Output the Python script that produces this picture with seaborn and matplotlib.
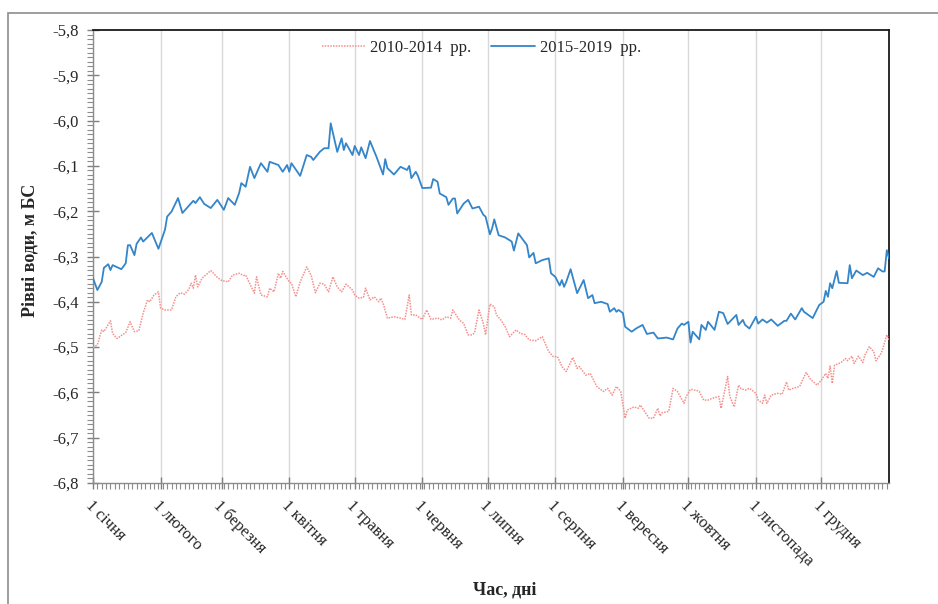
import numpy as np
import pandas as pd
import matplotlib
matplotlib.use("Agg")
import matplotlib.pyplot as plt
import seaborn as sns
from matplotlib.ticker import FixedLocator, MultipleLocator, FuncFormatter
from matplotlib.patches import Rectangle

# ---- data ----
month_days = [0, 31, 59, 90, 120, 151, 181, 212, 243, 273, 304, 334]
month_labels = ["1 січня", "1 лютого", "1 березня", "1 квітня", "1 травня", "1 червня",
                "1 липня", "1 серпня", "1 вересня", "1 жовтня", "1 листопада", "1 грудня"]
series_names = ["2010-2014  рр.", "2015-2019  рр."]

days_2010 = [0, 2, 4, 5, 8, 9, 11, 15, 17, 19, 21, 23, 25, 26, 28, 30, 31, 33, 36, 38,
             40, 42, 44, 45, 46, 47, 48, 50, 54, 57, 59, 62, 64, 67, 69, 70, 74, 75, 77, 80,
             81, 83, 85, 86, 87, 90, 91, 93, 95, 96, 98, 100, 102, 104, 106, 108, 110, 112, 114, 116,
             119, 120, 122, 124, 125, 127, 129, 131, 132, 133, 135, 138, 141, 143, 145, 146, 148, 151, 153, 155,
             158, 160, 162, 164, 165, 168, 170, 172, 174, 175, 177, 179, 180, 182, 184, 185, 187, 189, 191, 194,
             196, 198, 200, 203, 206, 207, 209, 211, 213, 215, 217, 220, 222, 223, 226, 228, 231, 234, 236, 238,
             240, 242, 244, 245, 248, 250, 251, 255, 257, 259, 260, 261, 264, 266, 268, 271, 272, 274, 277, 278,
             280, 282, 284, 287, 288, 291, 292, 294, 296, 297, 299, 301, 304, 305, 307, 308, 309, 311, 314, 316,
             318, 319, 321, 324, 327, 329, 332, 334, 336, 337, 338, 339, 340, 343, 345, 346, 348, 349, 351, 353,
             354, 356, 358, 359, 361, 362, 364, 365]
level_2010 = [-6.501, -6.495, -6.462, -6.466, -6.442, -6.470, -6.481, -6.468, -6.444, -6.466, -6.464, -6.425, -6.396, -6.400, -6.385, -6.378, -6.414, -6.418, -6.418, -6.389,
              -6.380, -6.383, -6.372, -6.359, -6.370, -6.341, -6.367, -6.348, -6.331, -6.346, -6.353, -6.356, -6.341, -6.337, -6.342, -6.341, -6.381, -6.345, -6.385, -6.389,
              -6.370, -6.378, -6.337, -6.348, -6.333, -6.356, -6.359, -6.389, -6.356, -6.345, -6.323, -6.341, -6.380, -6.359, -6.361, -6.378, -6.345, -6.367, -6.378, -6.361,
              -6.374, -6.385, -6.392, -6.390, -6.370, -6.396, -6.389, -6.400, -6.392, -6.403, -6.436, -6.433, -6.436, -6.439, -6.385, -6.429, -6.429, -6.439, -6.418, -6.439,
              -6.436, -6.440, -6.433, -6.436, -6.418, -6.440, -6.448, -6.473, -6.473, -6.468, -6.418, -6.448, -6.473, -6.405, -6.411, -6.429, -6.440, -6.455, -6.477, -6.462,
              -6.470, -6.472, -6.484, -6.486, -6.477, -6.488, -6.510, -6.521, -6.521, -6.543, -6.554, -6.523, -6.547, -6.543, -6.562, -6.558, -6.587, -6.598, -6.591, -6.606,
              -6.587, -6.598, -6.657, -6.639, -6.632, -6.635, -6.628, -6.657, -6.657, -6.635, -6.652, -6.645, -6.642, -6.591, -6.598, -6.624, -6.609, -6.593, -6.596, -6.598,
              -6.617, -6.617, -6.613, -6.609, -6.635, -6.565, -6.609, -6.632, -6.584, -6.591, -6.595, -6.591, -6.602, -6.617, -6.624, -6.606, -6.624, -6.606, -6.602, -6.604,
              -6.577, -6.595, -6.591, -6.587, -6.556, -6.571, -6.584, -6.573, -6.558, -6.569, -6.542, -6.580, -6.540, -6.534, -6.525, -6.530, -6.520, -6.536, -6.520, -6.534,
              -6.517, -6.499, -6.510, -6.530, -6.517, -6.506, -6.473, -6.484]

days_2015 = [0, 2, 4, 5, 7, 8, 9, 13, 15, 16, 17, 19, 20, 22, 23, 27, 30, 33, 34, 36,
             39, 41, 46, 47, 49, 51, 54, 57, 60, 62, 65, 67, 68, 70, 72, 74, 77, 80, 81, 85,
             87, 89, 90, 91, 95, 98, 100, 101, 104, 106, 108, 109, 112, 114, 115, 116, 119, 120, 122, 123,
             125, 127, 130, 133, 134, 135, 138, 141, 144, 145, 146, 148, 149, 151, 155, 156, 158, 159, 162, 163,
             165, 166, 167, 170, 172, 174, 177, 179, 180, 182, 183, 184, 186, 189, 192, 193, 195, 199, 200, 202,
             203, 206, 209, 210, 212, 214, 215, 216, 217, 219, 222, 225, 227, 229, 230, 233, 236, 237, 239, 240,
             241, 243, 244, 247, 249, 252, 254, 257, 259, 263, 266, 268, 270, 271, 273, 274, 275, 278, 279, 281,
             282, 285, 287, 289, 291, 295, 296, 298, 299, 301, 304, 305, 307, 309, 311, 314, 317, 318, 320, 322,
             325, 326, 330, 333, 335, 336, 337, 338, 339, 341, 342, 346, 347, 348, 350, 353, 355, 358, 360, 362,
             363, 364, 365]
level_2015 = [-6.348, -6.374, -6.356, -6.325, -6.317, -6.330, -6.319, -6.328, -6.315, -6.275, -6.275, -6.297, -6.272, -6.258, -6.267, -6.248, -6.283, -6.241, -6.212, -6.201,
              -6.171, -6.204, -6.177, -6.182, -6.169, -6.184, -6.193, -6.175, -6.197, -6.171, -6.186, -6.160, -6.138, -6.146, -6.102, -6.127, -6.094, -6.113, -6.091, -6.098,
              -6.113, -6.098, -6.113, -6.094, -6.122, -6.076, -6.080, -6.087, -6.069, -6.061, -6.061, -6.006, -6.069, -6.039, -6.065, -6.050, -6.076, -6.056, -6.076, -6.059,
              -6.083, -6.045, -6.080, -6.119, -6.085, -6.105, -6.119, -6.102, -6.109, -6.100, -6.127, -6.113, -6.122, -6.149, -6.148, -6.129, -6.135, -6.161, -6.169, -6.186,
              -6.172, -6.172, -6.205, -6.183, -6.175, -6.194, -6.190, -6.208, -6.212, -6.251, -6.238, -6.218, -6.253, -6.258, -6.267, -6.287, -6.249, -6.275, -6.302, -6.292,
              -6.315, -6.308, -6.304, -6.337, -6.345, -6.364, -6.352, -6.367, -6.356, -6.328, -6.381, -6.352, -6.392, -6.385, -6.403, -6.400, -6.405, -6.422, -6.414, -6.422,
              -6.418, -6.425, -6.455, -6.466, -6.459, -6.451, -6.471, -6.468, -6.481, -6.479, -6.483, -6.459, -6.448, -6.451, -6.444, -6.490, -6.466, -6.483, -6.451, -6.462,
              -6.444, -6.462, -6.422, -6.425, -6.449, -6.429, -6.451, -6.440, -6.451, -6.459, -6.433, -6.448, -6.439, -6.446, -6.439, -6.453, -6.442, -6.442, -6.426, -6.439,
              -6.414, -6.422, -6.436, -6.407, -6.400, -6.376, -6.389, -6.359, -6.370, -6.332, -6.358, -6.359, -6.319, -6.348, -6.331, -6.341, -6.336, -6.345, -6.326, -6.333,
              -6.333, -6.286, -6.304]

y_ticks = [-6.8, -6.7, -6.6, -6.5, -6.4, -6.3, -6.2, -6.1, -6.0, -5.9, -5.8]

# ---- style ----
sns.set_style("white")
plt.rcParams['font.family'] = ['Liberation Serif', 'DejaVu Serif']

W, H = 938, 604
fig = plt.figure(figsize=(W / 100, H / 100), dpi=100)

# outer gray frame (only left/top visible in reference)
fig.patches.append(Rectangle((8 / W, -0.05), 1.2, 1 - 13 / H + 0.05, transform=fig.transFigure,
                             fill=False, edgecolor='#8c8c8c', linewidth=1.2, zorder=0))

ax = fig.add_axes([93 / W, 1 - 483 / H, (889 - 93) / W, (483 - 30) / H])

df10 = pd.DataFrame({'day': days_2010, 'level': level_2010})
df15 = pd.DataFrame({'day': days_2015, 'level': level_2015})

red = '#f4908c'
blue = '#3485c9'
sns.lineplot(data=df10, x='day', y='level', ax=ax, color=red, linewidth=1.1,
             linestyle=(0, (1, 0.8)), label=series_names[0], zorder=3)
sns.lineplot(data=df15, x='day', y='level', ax=ax, color=blue, linewidth=1.3,
             label=series_names[1], zorder=4)

ax.set_xlim(0, 365)
ax.set_ylim(-6.8, -5.8)

# x axis
ax.xaxis.set_major_locator(FixedLocator(month_days))
ax.set_xticklabels(month_labels, rotation=-45, ha='left', va='top',
                   rotation_mode='anchor', fontsize=12)
ax.xaxis.set_minor_locator(MultipleLocator(2))
ax.grid(axis='x', which='major', color='#d9d9d9', linewidth=1.0, zorder=0)
ax.grid(axis='y', visible=False)

# y axis
ax.yaxis.set_major_locator(FixedLocator(y_ticks))
ax.yaxis.set_major_formatter(FuncFormatter(lambda v, p: f"{v:.1f}".replace('.', ',')))
ax.yaxis.set_minor_locator(MultipleLocator(0.01))
ax.tick_params(axis='y', which='major', direction='inout', length=9, width=1,
               color='#7f7f7f', labelsize=12, pad=6)
ax.tick_params(axis='y', which='minor', direction='out', length=4, width=0.8, color='#8c8c8c')
ax.tick_params(axis='x', which='major', direction='inout', length=9, width=1,
               color='#7f7f7f', labelsize=12, pad=6)
ax.tick_params(axis='x', which='minor', direction='out', length=4, width=0.8, color='#8c8c8c')
ax.tick_params(axis='both', which='both', left=True, bottom=True, top=False, right=False)

for s in ['left', 'bottom']:
    ax.spines[s].set_color('#8c8c8c')
    ax.spines[s].set_linewidth(1.0)
for s in ['top', 'right']:
    ax.spines[s].set_color('#1a1a1a')
    ax.spines[s].set_linewidth(1.3)

ax.set_xlabel('')
ax.set_ylabel('')
fig.text(30 / W, 1 - 250 / H, 'Рівні води, м БС', rotation=90, ha='center', va='center',
         fontsize=13, fontweight='bold')
fig.text(505 / W, 1 - 590 / H, 'Час, дні', ha='center', va='center',
         fontsize=13, fontweight='bold')

leg = ax.legend(loc='center', bbox_to_anchor=(0.488, 0.96), ncol=2, frameon=False,
                fontsize=12, handlelength=2.6, columnspacing=1.2, handletextpad=0.3)

fig.savefig('out.png', dpi=100)
